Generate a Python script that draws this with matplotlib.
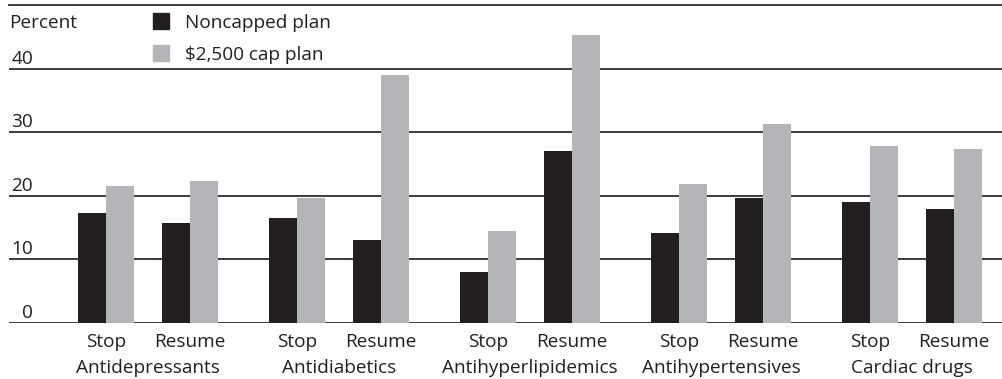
import matplotlib.pyplot as plt
from matplotlib import transforms

plt.rcParams['font.family'] = ['Open Sans', 'DejaVu Sans']

drug_classes = ['Antidepressants', 'Antidiabetics', 'Antihyperlipidemics',
                'Antihypertensives', 'Cardiac drugs']
actions = ['Stop', 'Resume']

# percent of beneficiaries, ordered Stop, Resume within each drug class
noncapped = [17.3, 15.8, 16.5, 13.0, 8.0, 27.1, 14.1, 19.6, 19.1, 18.0]
capped = [21.5, 22.4, 19.6, 39.0, 14.4, 45.3, 21.8, 31.3, 27.9, 27.3]

series_names = ['Noncapped plan', '$2,500 cap plan']
y_ticks = [0, 10, 20, 30, 40]

BLACK = '#231f20'
GRAY = '#b4b5b8'
LINE = '#3c3c3c'
FS = 13.7

fig = plt.figure(figsize=(10.02, 3.79), dpi=100)
ax = fig.add_axes([9 / 1002, 56 / 379, 993 / 1002, 318 / 379])

# pair positions: one unit between Stop and Resume, wider gap between classes
group_pitch = 2.274
first = 1.262
width = 1 / 3
positions = []
for g in range(len(drug_classes)):
    for k in range(len(actions)):
        positions.append(first + g * group_pitch + k)

for i, x in enumerate(positions):
    ax.bar(x - width / 2, noncapped[i], width, color=BLACK, zorder=3)
    ax.bar(x + width / 2, capped[i], width, color=GRAY, zorder=3)

ax.set_xlim(9 / 84, 1002 / 84)
ax.set_ylim(0, 50)

for v in y_ticks:
    ax.axhline(v, color=LINE, lw=1.4, zorder=2)

for side in ['left', 'right', 'bottom']:
    ax.spines[side].set_visible(False)
ax.spines['top'].set_color(LINE)
ax.spines['top'].set_linewidth(1.4)
ax.set_xticks([])
ax.set_yticks([])

# y labels sit just above their gridlines
ylab = transforms.blended_transform_factory(ax.transAxes, ax.transData)
ylab = ylab + transforms.ScaledTranslation(0, 5 / 100, fig.dpi_scale_trans)
for v in y_ticks:
    ax.text(24 / 993, v, str(v), transform=ylab, ha='right', va='baseline',
            fontsize=FS, color=BLACK)
ax.text(0, 0.928, 'Percent', transform=ax.transAxes, ha='left',
        va='baseline', fontsize=FS, color=BLACK)

# legend drawn as squares with labels
for j, (name, col) in enumerate(zip(series_names, [BLACK, GRAY])):
    yb = 1 - (13 + 32 * j) / 379
    fig.patches.append(plt.Rectangle((153 / 1002, yb - 16 / 379), 16 / 1002,
                                     16 / 379, transform=fig.transFigure,
                                     color=col, figure=fig))
    fig.text(185 / 1002, 1 - (28 + 32 * j) / 379, name, ha='left',
             va='baseline', fontsize=FS, color=BLACK)

# category labels below the baseline
xlab = transforms.blended_transform_factory(ax.transData, fig.transFigure)
for i, x in enumerate(positions):
    fig.text(x, 1 - 347 / 379, actions[i % 2], transform=xlab, ha='center',
             va='baseline', fontsize=FS, color=BLACK)
for g, name in enumerate(drug_classes):
    xc = first + g * group_pitch + 0.5
    fig.text(xc, 1 - 373 / 379, name, transform=xlab, ha='center',
             va='baseline', fontsize=FS, color=BLACK)

fig.savefig('out.png', dpi=100)
